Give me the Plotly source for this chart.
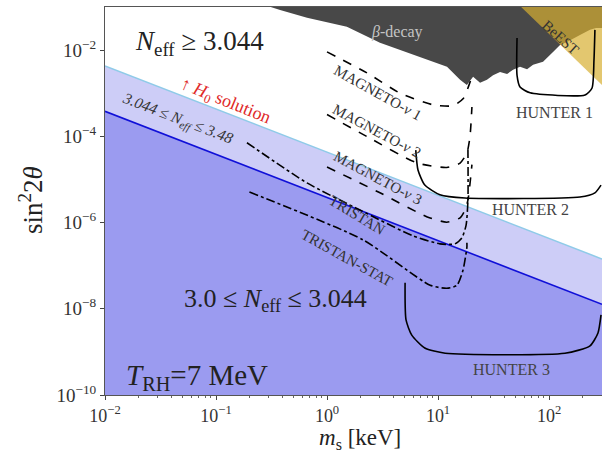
import numpy as np
import plotly.graph_objects as go

# ---------------- data ----------------
m_edges = [0.01, 300.0]
line_3044 = [3.8e-4, 1.27e-8]      # N_eff = 3.044 boundary (dark blue)
line_348 = [4.3e-3, 1.43e-7]       # N_eff = 3.48 boundary (light blue)
floor_s = [1e-10, 1e-10]

beta_m = [0.29, 0.378, 0.661, 1.51, 3.0, 6.89, 12.05, 15.8, 18.2, 20.7, 23.9, 27.6,
          31.3, 36.2, 41.9, 47.4, 54.8, 63.4, 71.8, 88.3, 97.9, 108.6, 125.6, 145,
          190, 234, 265, 300, 300]
beta_s = [0.106, 0.085, 0.056, 0.035, 0.0148, 0.0069, 0.0041, 0.00204, 0.00155,
          0.0024, 0.00174, 0.00204, 0.0026, 0.0031, 0.0028, 0.0035, 0.0041, 0.0036,
          0.0046, 0.0054, 0.0069, 0.0091, 0.0132, 0.0155, 0.0224, 0.0295, 0.0324,
          0.0324, 0.106]

beest_m = [54.8, 300, 300]
beest_s = [0.106, 0.106, 1.55e-3]

mag1_m = [1.0, 2.3, 4.5, 9.0, 13.6, 16.8, 18.6, 20.2]
mag1_s = [9.1e-3, 2.95e-3, 1.02e-3, 5.4e-4, 5.1e-4, 7.4e-4, 1.32e-3, 2.4e-3]

mag2_m = [1.0, 2.3, 6.5, 12.0, 15.8, 18.2, 19.4, 20.2]
mag2_s = [3.2e-4, 9.8e-5, 2.4e-5, 1.9e-5, 2.4e-5, 4.1e-5, 9.8e-5, 4.8e-4]

mag3_m = [1.0, 3.0, 8.0, 12.0, 15.8, 17.5, 18.6, 20.2]
mag3_s = [1.95e-5, 4.9e-6, 1.35e-6, 1.02e-6, 1.29e-6, 1.95e-6, 3.3e-6, 2.2e-5]

tristan_m = [0.19, 0.66, 1.98, 5.96, 10.4, 14.2, 16.4, 17.9, 18.6, 18.6]
tristan_s = [7.1e-5, 8.3e-6, 1.95e-6, 4.9e-7, 3.2e-7, 3.2e-7, 4.4e-7, 8.7e-7, 3.3e-6, 4.8e-5]

tstat_m = [0.2, 2.1, 8.5, 12.0, 14.8, 16.8, 18.2, 18.2]
tstat_s = [5.1e-6, 4.0e-7, 3.5e-8, 3.0e-8, 3.5e-8, 7.9e-8, 2.7e-7, 3.4e-7]

hunter1_m = [51.5, 51.5, 54.8, 67.5, 211, 244, 254, 259]
hunter1_s = [1.9e-2, 2.6e-3, 1.4e-3, 1.02e-3, 9.1e-4, 1.32e-3, 5.9e-3, 2.95e-2]

hunter2_m = [6.3, 6.6, 7.6, 10.4, 17.5, 190, 259, 294]
hunter2_s = [4.8e-5, 1.66e-5, 7.4e-6, 4.4e-6, 3.7e-6, 3.9e-6, 4.9e-6, 7.4e-6]

hunter3_m = [5.05, 5.15, 5.8, 7.6, 11.6, 139, 234, 276, 294]
hunter3_s = [4.0e-8, 5.5e-9, 2.45e-9, 1.23e-9, 9.3e-10, 9.3e-10, 1.38e-9, 2.75e-9, 7.2e-9]

x_ticks = [0.01, 0.1, 1, 10, 100]
x_ticktext = ["10<sup>−2</sup>", "10<sup>−1</sup>", "10<sup>0</sup>", "10<sup>1</sup>", "10<sup>2</sup>"]
y_ticks = [1e-10, 1e-8, 1e-6, 1e-4, 1e-2]
y_ticktext = ["10<sup>−10</sup>", "10<sup>−8</sup>", "10<sup>−6</sup>", "10<sup>−4</sup>", "10<sup>−2</sup>"]
x_minor = [k * 10.0 ** e for e in range(-2, 3) for k in range(2, 10) if k * 10.0 ** e <= 300]

# ---------------- figure ----------------
SERIF = "Liberation Serif"
fig = go.Figure()

fig.add_trace(go.Scatter(x=m_edges, y=floor_s, mode="lines", line=dict(width=0),
                         showlegend=False, hoverinfo="skip"))
fig.add_trace(go.Scatter(x=m_edges, y=line_3044, mode="lines", line=dict(width=0),
                         fill="tonexty", fillcolor="#9b9bf0", showlegend=False))
fig.add_trace(go.Scatter(x=m_edges, y=line_348, mode="lines",
                         line=dict(color="#8fcbe8", width=1.5),
                         fill="tonexty", fillcolor="#cdcdf7", showlegend=False))
fig.add_trace(go.Scatter(x=m_edges, y=line_3044, mode="lines",
                         line=dict(color="#1010d8", width=1.6), showlegend=False))

fig.add_trace(go.Scatter(x=beta_m, y=beta_s, mode="lines", line=dict(width=0),
                         fill="toself", fillcolor="#484848", showlegend=False))
fig.add_trace(go.Scatter(x=beest_m, y=beest_s, mode="lines", line=dict(width=0),
                         fill="toself", fillcolor="rgba(215,175,50,0.70)", showlegend=False))

def curve(mx, sy, dash):
    fig.add_trace(go.Scatter(x=mx, y=sy, mode="lines",
                             line=dict(color="black", width=1.6, dash=dash,
                                       shape="spline", smoothing=0.6),
                             showlegend=False))

curve(mag1_m, mag1_s, "dash")
curve(mag2_m, mag2_s, "dash")
curve(mag3_m, mag3_s, "dash")
curve(tristan_m, tristan_s, "dashdot")
curve(tstat_m, tstat_s, "dashdot")
curve(hunter1_m, hunter1_s, "solid")
curve(hunter2_m, hunter2_s, "solid")
curve(hunter3_m, hunter3_s, "solid")

L, T, B = 105, 7, 63
W, H = 602, 458
PW, PH = W - L, H - T - B

def P(px, py):
    return (px - L) / PW, (H - B - py) / PH

def note(px, py, text, size, color="#222", angle=0, font=SERIF):
    x, y = P(px, py)
    fig.add_annotation(x=x, y=y, xref="paper", yref="paper", text=text,
                       showarrow=False, textangle=angle, xanchor="center", yanchor="middle",
                       font=dict(family=font, size=size, color=color))

note(199, 43, "<i>N</i><sub>eff</sub> ≥ 3.044", 27)
note(225, 101, "↑ <i>H</i><sub>0</sub> solution", 18, color="#e02828", angle=22)
note(177, 119, "<i>3.044 ≤ N</i><sub><i>eff</i></sub><i> ≤ 3.48</i>", 15.5, color="#333", angle=21)
note(397, 32, "<i>β</i>-decay", 16, color="#c4c4c4")
note(560, 37, "BeEST", 15, color="#333", angle=42)
note(378, 93, "MAGNETO-<i>ν</i> 1", 15, color="#333", angle=29)
note(377, 131, "MAGNETO-<i>ν</i> 2", 15, color="#333", angle=28)
note(378, 178, "MAGNETO-<i>ν</i> 3", 15, color="#333", angle=28)
note(357, 215, "TRISTAN", 15, color="#333", angle=31)
note(347, 258, "TRISTAN-STAT", 15, color="#333", angle=29)
note(554, 112, "HUNTER 1", 16, color="#444")
note(530, 210, "HUNTER 2", 16, color="#444")
note(511, 369, "HUNTER 3", 16, color="#444")
note(275, 300, "3.0 ≤ <i>N</i><sub>eff</sub> ≤ 3.044", 26)
note(197, 377, "<i>T</i><sub>RH</sub>=7 MeV", 29)
note(31, 200, "sin<sup>2</sup>2<i>θ</i>", 27, color="#222", angle=-90)
note(360, 439, "<i>m</i><sub>s</sub> [keV]", 23, color="#222")

fig.update_xaxes(type="log", range=[-2, np.log10(300)], tickvals=x_ticks, ticktext=x_ticktext,
                 showgrid=False, zeroline=False,
                 ticks="outside", ticklen=4, tickcolor="#444",
                 minor=dict(ticks="outside", ticklen=2, tickcolor="#666", showgrid=False,
                            tickvals=x_minor),
                 showline=True, linecolor="#555", linewidth=1, mirror=True,
                 tickfont=dict(family=SERIF, size=18, color="#333"))
fig.update_yaxes(type="log", range=[-10, -1], tickvals=y_ticks, ticktext=y_ticktext,
                 showgrid=False, zeroline=False,
                 ticks="outside", ticklen=4, tickcolor="#444",
                 showline=True, linecolor="#555", linewidth=1, mirror=True,
                 tickfont=dict(family=SERIF, size=19, color="#333"))

fig.update_layout(width=W, height=H, margin=dict(l=L, r=0, t=T, b=B),
                  plot_bgcolor="white", paper_bgcolor="white", showlegend=False)

fig.write_html("out.html")
